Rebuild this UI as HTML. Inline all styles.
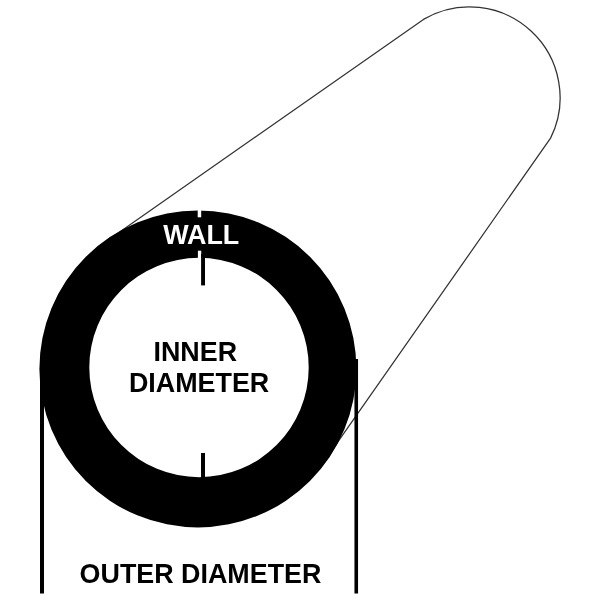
<!DOCTYPE html>
<html><head><meta charset="utf-8"><style>
html,body{margin:0;padding:0;background:#fff;width:600px;height:600px;overflow:hidden}
svg{display:block}
text{font-family:"Liberation Sans",sans-serif;font-weight:bold}
</style></head><body>
<svg style="will-change:transform" width="600" height="600" viewBox="0 0 600 600">
<rect width="600" height="600" fill="#fff"/>
<path d="M107.87,240.24 L423.44,19.41 A90.7,90.7 0 0 1 550.55,138.11 L326.12,458.67" fill="none" stroke="#333" stroke-width="1.25"/>
<path fill="#000" fill-rule="evenodd" d="M39.40,368.90 a158.5,158.5 0 1 0 317.00,0 a158.5,158.5 0 1 0 -317.00,0 Z M89.30,367.50 a109.7,109.7 0 1 0 219.40,0 a109.7,109.7 0 1 0 -219.40,0 Z"/>
<rect x="197.7" y="205" width="3.5" height="12.3" fill="#fff"/>
<rect x="197.9" y="250.7" width="3.35" height="10" fill="#fff"/>
<rect x="201.1" y="254" width="3.9" height="31.4" fill="#000"/>
<rect x="201" y="453" width="4" height="26" fill="#000"/>
<rect x="40" y="368" width="4" height="225.5" fill="#000"/>
<rect x="354.45" y="359" width="3.6" height="234.5" fill="#000"/>
<text transform="translate(163.17,243.60) scale(0.96,1)" fill="#fff" font-size="28">WALL</text>
<text transform="translate(153.45,360.75) scale(0.96,1)" fill="#000" font-size="28">INNER</text>
<text transform="translate(128.95,391.90) scale(0.96,1)" fill="#000" font-size="28">DIAMETER</text>
<text transform="translate(79.57,582.85) scale(0.96,1)" fill="#000" font-size="28">OUTER DIAMETER</text>
</svg>
</body></html>
